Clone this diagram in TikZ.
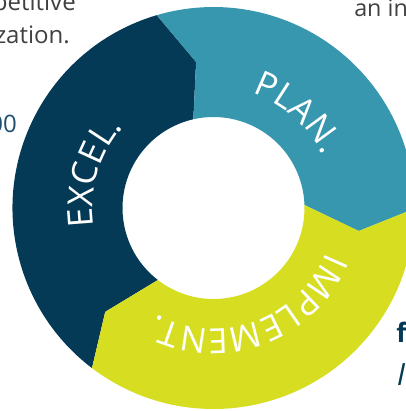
\documentclass[tikz,border=0pt]{standalone}
\usepackage{fontspec}
\setmainfont{Open Sans}
\usetikzlibrary{decorations.text}

\definecolor{excelblue}{HTML}{043A55}
\definecolor{planteal}{HTML}{3797AF}
\definecolor{implgreen}{HTML}{D7DE22}
\definecolor{bodygray}{HTML}{404040}
\definecolor{numblue}{HTML}{1D4F70}

\newcommand{\ringfont}{\fontsize{26}{26}\selectfont}

\begin{document}
\begin{tikzpicture}[x=0.75pt, y=0.75pt,
    bodytext/.style={text=bodygray, font=\fontsize{18}{22}\selectfont, inner sep=0pt},
    ringlabel/.style={decorate, decoration={text along path, text align=center, text color=white}}]
    \useasboundingbox (-213.5,-203) rectangle (192.5,208);
    % ring segments
    \fill[excelblue] (106.4:201) arc[start angle=106.4, end angle=232.8, radius=201]
        -- (223.8:150) -- (232.3:91) arc[start angle=232.3, end angle=102.8, radius=91]
        -- (96.8:147) -- cycle;
    \fill[planteal] (-0.2:201) arc[start angle=-0.2, end angle=106.4, radius=201]
        -- (96.8:147) -- (102.8:91) arc[start angle=102.8, end angle=1.9, radius=91]
        -- (-9:147) -- cycle;
    \fill[implgreen] (-127.2:201) arc[start angle=-127.2, end angle=-0.2, radius=201]
        -- (-9:147) -- (1.9:91) arc[start angle=1.9, end angle=-127.7, radius=91]
        -- (-136.2:150) -- cycle;
    % labels on the ring
    \path[ringlabel, decoration={text={|\ringfont|PLAN.}}]
        (95:121) arc[start angle=95, end angle=2, radius=121];
    \path[ringlabel, decoration={text={|\ringfont|EXCEL.}}]
        (220:121) arc[start angle=220, end angle=107, radius=121];
    \path[ringlabel, decoration={text={|\ringfont|IMPLEMENT.}}]
        (-5:121) arc[start angle=-5, end angle=-135, radius=121];
    % surrounding text
    \node[bodytext, anchor=base east] (comp) at (-137.5,197) {petitive};
    \node[bodytext, anchor=base east] (org) at (-143.5,165) {zation.};
    \node[bodytext, anchor=base east, text=numblue] (amount) at (-196.5,76) {00};
    \node[bodytext, anchor=base west, font=\fontsize{17.5}{20}\selectfont] (intro) at (140.5,191) {an in};
    \node[anchor=base west, inner sep=0pt, text=excelblue, font=\fontsize{20}{24}\selectfont\bfseries] (fword) at (182.5,-134) {f};
    \node[anchor=base west, inner sep=0pt, text=excelblue, font=\fontsize{23}{26}\selectfont\itshape] (iword) at (183,-177) {I};
\end{tikzpicture}
\end{document}
